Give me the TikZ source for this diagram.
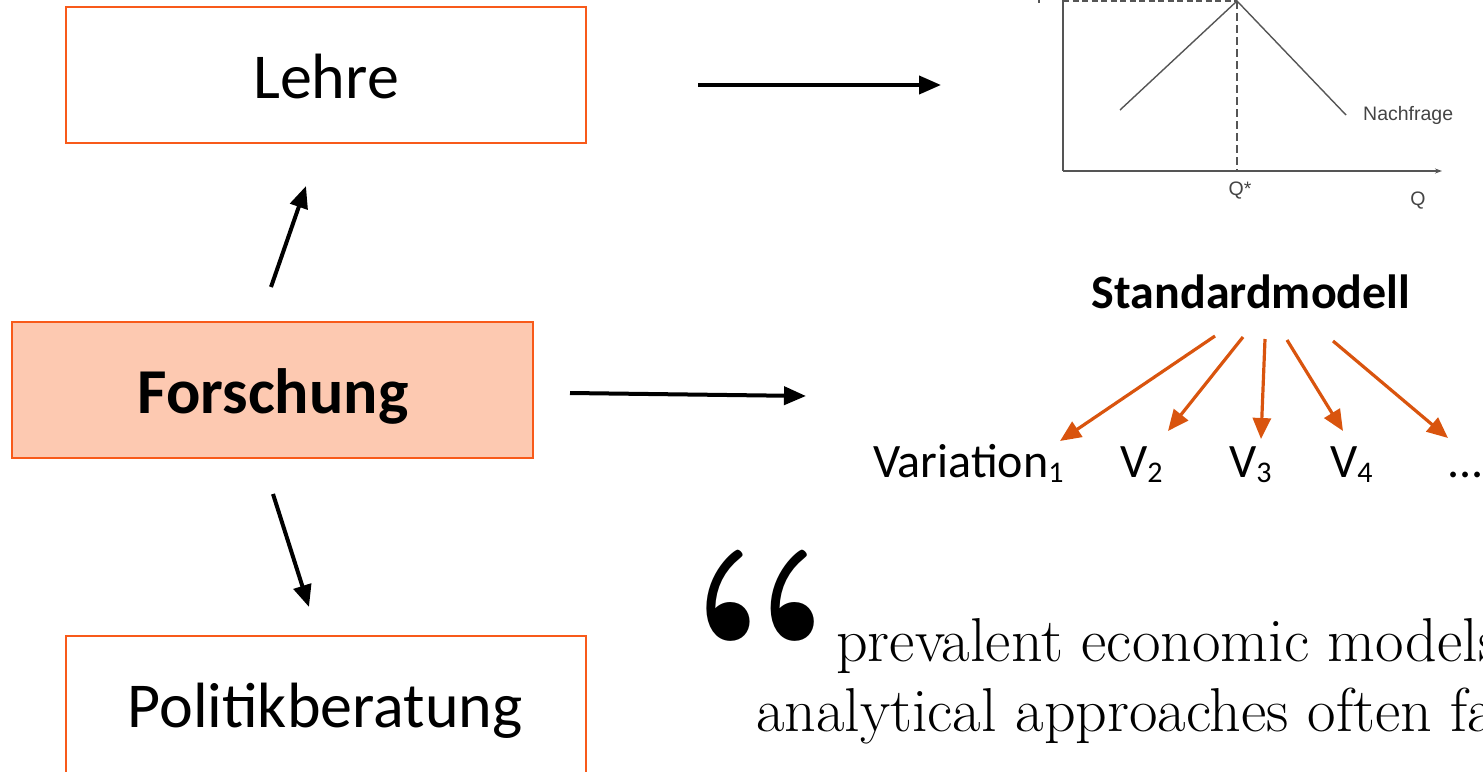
\documentclass[tikz,border=0pt]{standalone}
\usepackage{fontspec}
\newfontfamily\calfont{Carlito}
\newfontfamily\graphfont{Liberation Sans}
\usetikzlibrary{arrows.meta}
\definecolor{boxline}{HTML}{F85A1A}
\definecolor{boxfill}{HTML}{FDC9B1}
\definecolor{varorange}{HTML}{D9540E}
\definecolor{graphgray}{HTML}{555555}
\newcommand{\vsub}[1]{\raisebox{-0.12em}{\fontsize{30}{30}\selectfont #1}}
\tikzset{
  box/.style={draw=boxline, line width=1.5pt, minimum width=520pt, minimum height=136pt, inner sep=0pt},
  boxtext/.style={font=\calfont\fontsize{64}{70}\selectfont, inner sep=0pt, anchor=base},
  blackarrow/.style={line width=4pt, -{Triangle[length=22pt,width=18pt]}},
  orarrow/.style={draw=varorange, line width=3.2pt, -{Triangle[length=21pt,width=18pt]}},
  glabel/.style={font=\graphfont\fontsize{19.5}{22}\selectfont, text=graphgray!80!black, inner sep=0pt},
  gline/.style={draw=graphgray, line width=1.4pt},
  vlabel/.style={font=\calfont\fontsize{48}{52}\selectfont, inner sep=0pt, anchor=base west},
  qtext/.style={font=\fontsize{62}{64}\selectfont, inner sep=0pt, anchor=base west}
}
\begin{document}
\begin{tikzpicture}[x=1pt,y=-1pt]
\useasboundingbox (0,0) rectangle (1483,771);
\clip (0,0) rectangle (1483,771);
% left boxes
\node[box] (lehre) at (326,75) {};
\node[boxtext] (lehretext) at (326,98) {Lehre};
\node[box, fill=boxfill, minimum width=521pt] (forsch) at (272.5,390) {};
\node[boxtext, font=\calfont\bfseries\fontsize{64}{70}\selectfont] (forschtext) at (273,413) {Forschung};
\node[box, minimum height=150pt] (politik) at (326,711) {};
\node[boxtext] (politiktext) at (325,727) {Politikberatung};
% black arrows
\coordinate (upS) at (271,287); \coordinate (upE) at (306,186);
\coordinate (dnS) at (273,494); \coordinate (dnE) at (309,607);
\coordinate (r1S) at (698,85); \coordinate (r1E) at (941,85);
\coordinate (r2S) at (570,393); \coordinate (r2E) at (806,396);
\draw[blackarrow] (upS) -- (upE);
\draw[blackarrow] (dnS) -- (dnE);
\draw[blackarrow] (r1S) -- (r1E);
\draw[blackarrow] (r2S) -- (r2E);
% graph
\coordinate (origin) at (1063,171);
\coordinate (ytop) at (1063,-5);
\coordinate (xend) at (1442,171);
\coordinate (eq) at (1237,1);
\coordinate (eqx) at (1237,171);
\coordinate (eqy) at (1063,1);
\coordinate (sup) at (1120,110);
\coordinate (dem) at (1346,115);
\draw[gline] (ytop) -- (origin);
\draw[gline, -{Stealth[length=7pt,width=5pt]}] (origin) -- (xend);
\draw[gline, dash pattern=on 6pt off 3.5pt] (eqy) -- (eq);
\draw[gline, dash pattern=on 8pt off 4pt] (eq) -- (eqx);
\draw[gline] (sup) -- (eq) -- (dem);
\node[glabel, anchor=west] (nach) at (1363,115) {Nachfrage};
\node[glabel] (qstar) at (1240,191) {Q*};
\node[glabel] (qlab) at (1418,201) {Q};
\node[glabel] (plab) at (1043,-3) {P};
% standard model
\node[font=\calfont\bfseries\fontsize{48}{52}\selectfont, inner sep=0pt] (std) at (1251,292) {Standardmodell};
\node[vlabel] (v1) at (873,477) {Variation\vsub{1}};
\node[vlabel] (v2) at (1120,477) {V\vsub{2}};
\node[vlabel] (v3) at (1229,477) {V\vsub{3}};
\node[vlabel] (v4) at (1330,477) {V\vsub{4}};
\node[vlabel] (v5) at (1447,477) {...};
\coordinate (s1) at (1215,336); \coordinate (e1) at (1060,441);
\coordinate (s2) at (1243,337); \coordinate (e2) at (1168,431);
\coordinate (s3) at (1265,339); \coordinate (e3) at (1261,439);
\coordinate (s4) at (1287,340); \coordinate (e4) at (1343,431);
\coordinate (s5) at (1333,341); \coordinate (e5) at (1448,438);
\draw[orarrow] (s1) -- (e1);
\draw[orarrow] (s2) -- (e2);
\draw[orarrow] (s3) -- (e3);
\draw[orarrow] (s4) -- (e4);
\draw[orarrow] (s5) -- (e5);
% quote
\node[font=\bfseries\fontsize{270}{270}\selectfont, inner sep=0pt, anchor=north west] (qmark) at (688,550) {“};
\node[qtext] (q1) at (836,661) {prevalent economic models};
\node[qtext] (q2) at (756,731) {analytical approaches often fail};
\end{tikzpicture}
\end{document}
